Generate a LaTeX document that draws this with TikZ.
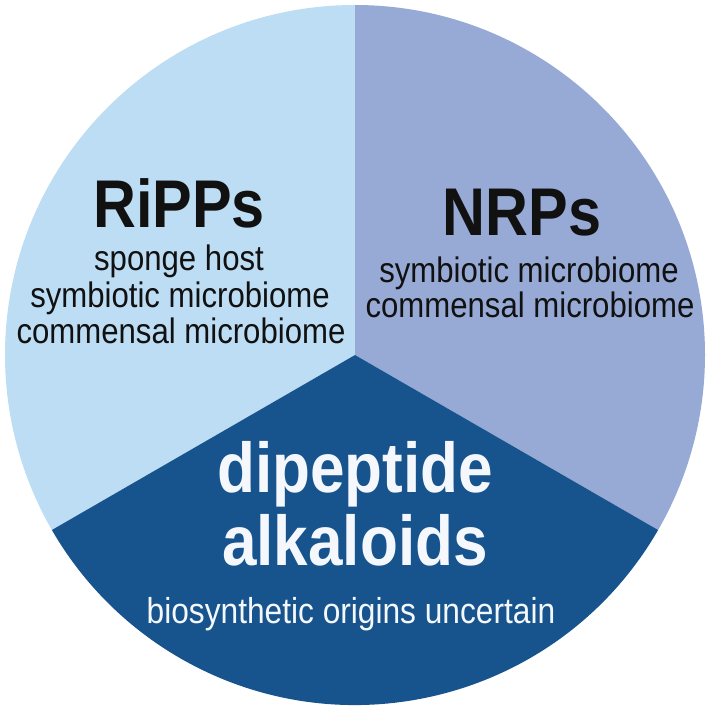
\documentclass[tikz,border=0pt]{standalone}
\usepackage{fontspec}
\setmainfont{Liberation Sans}
\definecolor{ripps}{HTML}{BDDDF4}
\definecolor{nrps}{HTML}{97AAD6}
\definecolor{dipep}{HTML}{17538D}
\definecolor{ink}{HTML}{111111}
\definecolor{paper}{HTML}{F4F7FB}
\tikzset{
  title/.style={anchor=base, inner sep=0pt, font=\fontsize{67.5}{67.5}\bfseries\selectfont, xscale=0.88},
  bigtitle/.style={anchor=base, inner sep=0pt, font=\fontsize{70.5}{70.5}\bfseries\selectfont, xscale=0.88},
  body/.style={anchor=base, inner sep=0pt, font=\fontsize{35.4}{35.4}\selectfont, xscale=0.88},
}
\begin{document}
\begin{tikzpicture}[x=1pt,y=-1pt]
\useasboundingbox (0,0) rectangle (709,709);
\coordinate (c) at (355,355);
% sectors (angles mirrored because y points down)
\fill[ripps] (c) -- +(-90:350) arc[start angle=-90, end angle=-210, radius=350] -- cycle;
\fill[nrps]  (c) -- +(-90:350) arc[start angle=-90, end angle=30, radius=350] -- cycle;
\fill[dipep] (c) -- +(30:350) arc[start angle=30, end angle=150, radius=350] -- cycle;
% RiPPs
\node[title, text=ink] (rippsT) at (179,227) {RiPPs};
\node[body, text=ink] (ripps1) at (179,270) {sponge host};
\node[body, text=ink] (ripps2) at (180,307) {symbiotic microbiome};
\node[body, text=ink] (ripps3) at (181,343) {commensal microbiome};
% NRPs
\node[title, text=ink] (nrpsT) at (522,235) {NRPs};
\node[body, text=ink] (nrps1) at (529,282) {symbiotic microbiome};
\node[body, text=ink] (nrps2) at (530,317) {commensal microbiome};
% dipeptide alkaloids
\node[bigtitle, text=paper] (dipT1) at (355,492) {dipeptide};
\node[bigtitle, text=paper] (dipT2) at (355,565) {alkaloids};
\node[body, text=paper, font=\fontsize{36}{36}\selectfont] (dip1) at (351,623) {biosynthetic origins uncertain};
\end{tikzpicture}
\end{document}
